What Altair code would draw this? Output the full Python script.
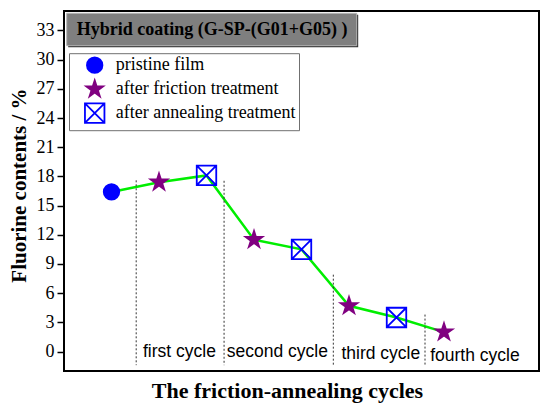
import altair as alt
import pandas as pd

# ---- data ----
x_idx = [0, 1, 2, 3, 4, 5, 6, 7]
fluorine = [16.4, 17.4, 18.1, 11.5, 10.5, 4.7, 3.5, 2.0]
kind = ["pristine film", "after friction treatment", "after annealing treatment",
        "after friction treatment", "after annealing treatment",
        "after friction treatment", "after annealing treatment",
        "after friction treatment"]
kind_order = ["pristine film", "after friction treatment", "after annealing treatment"]

sep_x = [0.52, 2.37, 4.67, 6.6]
sep_top = [17.6, 17.55, 7.9, 3.8]
sep_bottom = [-1.4, -1.4, -1.4, -1.4]

cycle_names = ["first cycle", "second cycle", "third cycle", "fourth cycle"]
cycle_x = [1.43, 3.49, 5.67, 7.65]
cycle_y = [0.0, -0.05, -0.25, -0.45]

y_ticks = [0, 3, 6, 9, 12, 15, 18, 21, 24, 27, 30, 33]
title_text = "Hybrid coating (G-SP-(G01+G05) )"

pts = pd.DataFrame({"x": x_idx, "y": fluorine, "kind": kind})
seps = pd.DataFrame({"x": sep_x, "y": sep_top, "y2": sep_bottom})
labs = pd.DataFrame({"x": cycle_x, "y": cycle_y, "name": cycle_names})
ttl = pd.DataFrame({"t": [title_text]})

SERIF = "Liberation Serif"
SANS = "Liberation Sans"

STAR = ("M0,-1L0.2245,-0.309L0.951,-0.309L0.363,0.118L0.588,0.809L0,0.382"
        "L-0.588,0.809L-0.363,0.118L-0.951,-0.309L-0.2245,-0.309Z")
XSQ = "M-1,-1L1,-1L1,1L-1,1ZM-1,-1L1,1M1,-1L-1,1"

xs = alt.Scale(domain=[-1, 9], nice=False, zero=False)
ys = alt.Scale(domain=[-2, 35], nice=False, zero=False)

x_enc = alt.X("x:Q", scale=xs, title="The friction-annealing cycles",
              axis=alt.Axis(ticks=False, labels=False, domain=False, grid=False,
                            titleFont=SERIF, titleFontSize=22, titleFontWeight="bold",
                            titleColor="black", titleX=223, titleY=19,
                            titleBaseline="middle"))
y_enc = alt.Y("y:Q", scale=ys, title="Fluorine contents / %",
              axis=alt.Axis(values=y_ticks, domain=False, grid=False,
                            tickSize=7, tickWidth=1.5, tickColor="black",
                            labelFont=SERIF, labelFontSize=18, labelColor="black",
                            labelPadding=3,
                            titleFont=SERIF, titleFontSize=21, titleFontWeight="bold",
                            titleColor="black", titleX=-45, titleY=174,
                            titleAngle=270, titleBaseline="middle"))

line = alt.Chart(pts).mark_line(color="#00ee00", strokeWidth=2.5).encode(x=x_enc, y=y_enc)

rules = alt.Chart(seps).mark_rule(color="#333333", strokeWidth=1, strokeDash=[2, 2]).encode(
    x=x_enc, y=y_enc, y2="y2:Q")

texts = alt.Chart(labs).mark_text(font=SANS, fontSize=17.5, color="black",
                                  align="center", baseline="middle").encode(
    x=x_enc, y=y_enc, text="name:N")

points = alt.Chart(pts).mark_point(filled=True, opacity=1, strokeWidth=1.8).encode(
    x=x_enc, y=y_enc,
    shape=alt.Shape("kind:N", scale=alt.Scale(domain=kind_order, range=["circle", STAR, XSQ]),
                    title=None),
    fill=alt.Fill("kind:N", scale=alt.Scale(domain=kind_order,
                                            range=["#0000ff", "#800080", "transparent"]),
                  title=None),
    stroke=alt.Stroke("kind:N", scale=alt.Scale(domain=kind_order,
                                                range=["#0000ff", "#800080", "#0000ff"]),
                      title=None),
    size=alt.Size("kind:N", scale=alt.Scale(domain=kind_order, range=[240, 380, 165]),
                  title=None),
)

box_shadow = alt.Chart(ttl).mark_rect(fill="#333333").encode(
    x=alt.value(4.2), x2=alt.value(294.2), y=alt.value(3.8), y2=alt.value(36.2))
box = alt.Chart(ttl).mark_rect(fill="#7f7f7f", stroke="#b5b5b5", strokeWidth=1).encode(
    x=alt.value(2.7), x2=alt.value(292.7), y=alt.value(2.3), y2=alt.value(34.7))
box_text = alt.Chart(ttl).mark_text(font=SERIF, fontSize=18, fontWeight="bold",
                                    color="black", align="left", baseline="middle").encode(
    x=alt.value(12.7), y=alt.value(18.5), text="t:N")

chart = alt.layer(line, rules, texts, points, box_shadow, box, box_text).properties(
    width=475, height=360,
    autosize=alt.AutoSizeParams(type="none"),
    padding={"left": 56, "top": 3, "right": 3, "bottom": 38},
).configure_view(stroke="black", strokeWidth=2).configure_legend(
    orient="none", legendX=5, legendY=42.2,
    fillColor="white", strokeColor="#707070", padding=3,
    labelFont=SERIF, labelFontSize=18, labelColor="black", labelOffset=10,
    labelLimit=0,
    symbolOffset=11.7, rowPadding=-1, symbolStrokeWidth=1.8,
)

chart.save("out.html", embed_options={"renderer": "svg", "actions": False})
